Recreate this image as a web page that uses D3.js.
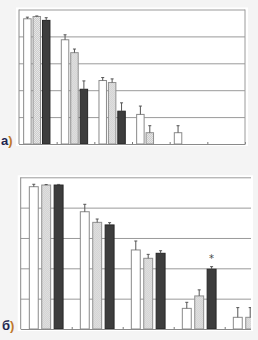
<!DOCTYPE html>
<html>
<head>
<meta charset="utf-8">
<script src="https://cdn.jsdelivr.net/npm/d3@7"></script>
<style>
  body { margin: 0; background: #f4f4f4; }
  svg { display: block; }
</style>
</head>
<body>
<svg id="chart" width="258" height="340"></svg>
<script>
// groups along the x axis (6 per panel, last ones cut off in panel b)
var groups = ["1", "2", "3", "4", "5", "6"];
var keys = ["white", "dotted", "dark"];
var yTicks = [0, 20, 40, 60, 80, 100];

// panel a values (%)
var aWhite  = [93.1, 77.5, 47.2, 22.0, 8.4, 0];
var aDotted = [94.8, 67.9, 45.7, 8.4, 0, 0];
var aDark   = [91.9, 40.7, 24.4, 0, 0, 0];
var aWhiteErr  = [1.2, 3.7, 2.2, 6.2, 5.2, 0];
var aDottedErr = [0.4, 2.7, 2.7, 5.2, 0, 0];
var aDarkErr   = [2.0, 6.2, 6.2, 0, 0, 0];

// panel b values (%)
var bWhite  = [93.8, 77.3, 52.1, 13.6, 7.7, 0];
var bDotted = [94.9, 70.3, 46.6, 21.8, 7.7, 0];
var bDark   = [94.9, 68.6, 49.9, 39.4, 0, 0];
var bWhiteErr  = [1.6, 4.9, 5.9, 4.0, 6.4, 0];
var bDottedErr = [0.3, 2.2, 2.6, 4.0, 6.4, 0];
var bDarkErr   = [0.4, 1.5, 1.7, 1.7, 0, 0];
var bStars = [null, null, null, "dark", null, null];

var svg = d3.select("#chart");

// dotted fill (fine checker, reads as light grey)
var defs = svg.append("defs");
var pat = defs.append("pattern")
    .attr("id", "dots")
    .attr("width", 2).attr("height", 2)
    .attr("patternUnits", "userSpaceOnUse");
pat.append("rect").attr("width", 2).attr("height", 2).attr("fill", "#e6e6e6");
pat.append("rect").attr("width", 1).attr("height", 1).attr("fill", "#cdcdcd");
pat.append("rect").attr("x", 1).attr("y", 1).attr("width", 1).attr("height", 1).attr("fill", "#cdcdcd");

var fills = { white: "#ffffff", dotted: "url(#dots)", dark: "#3d3d3d" };
var strokes = { white: "#8a8a8a", dotted: "#8f8f8f", dark: "#262626" };

function makeRows(w, d, k, we, de, ke, stars) {
  return groups.map(function(g, i) {
    return {
      group: g,
      values: [
        { key: "white", v: w[i], e: we[i], star: stars && stars[i] == "white" },
        { key: "dotted", v: d[i], e: de[i], star: stars && stars[i] == "dotted" },
        { key: "dark", v: k[i], e: ke[i], star: stars && stars[i] == "dark" }
      ]
    };
  });
}

function drawPanel(p) {
  var g = svg.append("g");

  g.append("rect")
    .attr("x", p.left - 3).attr("y", p.top - 2)
    .attr("width", p.clipRight - p.left + 5)
    .attr("height", p.bottom - p.top + 4)
    .attr("fill", "#fff");

  var clipId = "clip" + p.name;
  defs.append("clipPath").attr("id", clipId)
    .append("rect")
    .attr("x", p.left - 3).attr("y", 0)
    .attr("width", p.clipRight - p.left + 3)
    .attr("height", 340);

  var x0 = d3.scaleBand().domain(groups).range([p.left, p.right]);
  var x1 = d3.scaleBand().domain(keys).range([0, x0.bandwidth()])
    .paddingInner(p.barPad).paddingOuter(p.outerPad).align(p.align);
  var y = d3.scaleLinear().domain([0, 100]).range([p.bottom, p.top]);

  var inner = g.append("g").attr("clip-path", "url(#" + clipId + ")");

  // grid
  inner.append("g")
    .attr("transform", "translate(" + p.left + ",0)")
    .call(d3.axisLeft(y).tickValues(yTicks).tickSize(-(p.right - p.left)).tickFormat(""))
    .call(function(s) {
      s.select(".domain").remove();
      s.selectAll(".tick line").attr("stroke", "#9a9a9a");
    });

  // bars
  var grp = inner.selectAll(".grp")
    .data(p.rows)
    .enter().append("g")
      .attr("class", "grp")
      .attr("transform", function(d) { return "translate(" + x0(d.group) + ",0)"; });

  var bar = grp.selectAll(".bar")
    .data(function(d) { return d.values.filter(function(v) { return v.v > 0; }); })
    .enter().append("g").attr("class", "bar");

  bar.append("rect")
    .attr("x", function(d) { return x1(d.key) + 0.5; })
    .attr("y", function(d) { return y(d.v); })
    .attr("width", x1.bandwidth() - 1)
    .attr("height", function(d) { return y(0) - y(d.v); })
    .attr("fill", function(d) { return fills[d.key]; })
    .attr("stroke", function(d) { return strokes[d.key]; })
    .attr("stroke-width", 1);

  // error bars
  var cx = function(d) { return x1(d.key) + x1.bandwidth() / 2; };
  bar.append("line")
    .attr("x1", cx).attr("x2", cx)
    .attr("y1", function(d) { return y(d.v); })
    .attr("y2", function(d) { return y(d.v + d.e); })
    .attr("stroke", "#555").attr("stroke-width", 1);
  bar.append("line")
    .attr("x1", function(d) { return cx(d) - 1.5; })
    .attr("x2", function(d) { return cx(d) + 1.5; })
    .attr("y1", function(d) { return y(d.v + d.e); })
    .attr("y2", function(d) { return y(d.v + d.e); })
    .attr("stroke", "#555").attr("stroke-width", 1);

  bar.filter(function(d) { return d.star; })
    .append("text")
    .attr("x", cx)
    .attr("y", function(d) { return y(d.v + d.e) - 5; })
    .attr("text-anchor", "middle")
    .attr("font-family", "DejaVu Sans, sans-serif")
    .attr("font-size", 10)
    .attr("fill", "#444")
    .text("*");

  // x axis with small ticks between groups
  var xb = d3.scaleLinear().domain([0, groups.length]).range([p.left, p.right]);
  inner.append("g")
    .attr("transform", "translate(0," + p.bottom + ")")
    .call(d3.axisBottom(xb).tickValues(d3.range(1, groups.length + 1)).tickSize(-2).tickSizeOuter(0).tickFormat(""))
    .call(function(s) {
      s.select(".domain").attr("stroke", "#8a8a8a");
      s.selectAll(".tick line").attr("stroke", "#777");
    });

  // y axis line
  g.append("line")
    .attr("x1", p.left).attr("x2", p.left)
    .attr("y1", p.top).attr("y2", p.bottom)
    .attr("stroke", "#8a8a8a");

  if (p.frameRight) {
    g.append("line")
      .attr("x1", p.right).attr("x2", p.right)
      .attr("y1", p.top).attr("y2", p.bottom)
      .attr("stroke", "#9a9a9a");
  }

  var lab = g.append("text")
    .attr("x", p.labelX).attr("y", p.bottom + 1)
    .attr("font-family", "Liberation Sans, Arial, sans-serif")
    .attr("font-size", 13)
    .attr("font-weight", "bold");
  lab.append("tspan").attr("fill", "#1d2550").text(p.label);
  lab.append("tspan").attr("fill", "#c0782a").text(")");
}

drawPanel({
  name: "a", label: "а", labelX: 1,
  left: 19, right: 245, clipRight: 246, top: 9.5, bottom: 144,
  barPad: 0.1, outerPad: 0.55, align: 0.4, frameRight: true,
  rows: makeRows(aWhite, aDotted, aDark, aWhiteErr, aDottedErr, aDarkErr, null)
});

drawPanel({
  name: "b", label: "б", labelX: 2,
  left: 20.7, right: 326.7, clipRight: 251, top: 177.3, bottom: 329,
  barPad: 0.2, outerPad: 0.655, align: 0.5, frameRight: false,
  rows: makeRows(bWhite, bDotted, bDark, bWhiteErr, bDottedErr, bDarkErr, bStars)
});
</script>
</body>
</html>
